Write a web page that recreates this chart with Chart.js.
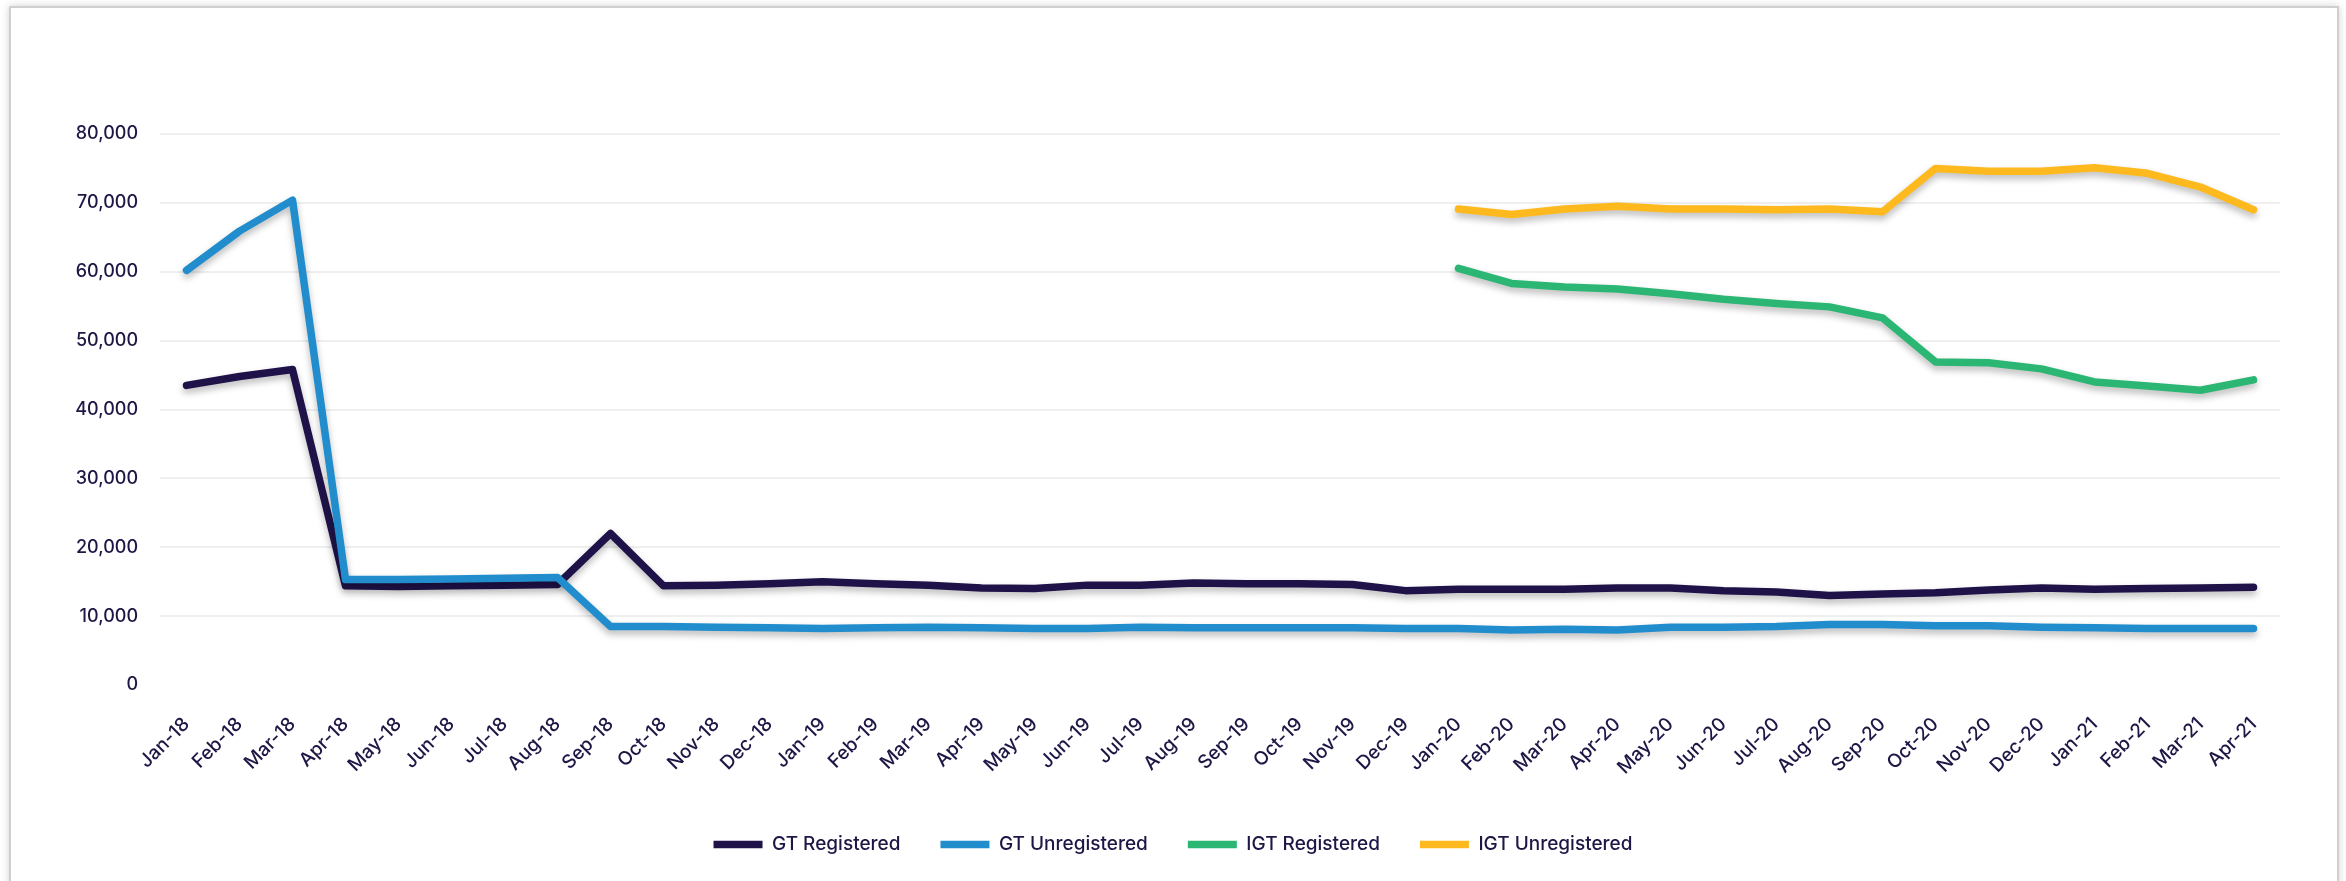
<!DOCTYPE html>
<html>
<head>
<meta charset="utf-8">
<script src="https://cdn.jsdelivr.net/npm/chart.js@4.4.1/dist/chart.umd.min.js"></script>
<style>
    html, body { margin: 0; padding: 0; background: #fff; }
    body { width: 2346px; height: 881px; position: relative; overflow: hidden; }
    .card {
        position: absolute; left: 9px; top: 6px; width: 2326px; height: 920px;
        border: 2px solid #cfcfcf; box-shadow: 0 0 8px rgba(0,0,0,0.18); background: #fff;
    }
    #trendChart { position: absolute; left: 0; top: 0; }
</style>
</head>
<body>
<div class="card"></div>
<canvas id="trendChart" width="2346" height="881"></canvas>
<script>
const months = [
    'Jan-18', 'Feb-18', 'Mar-18', 'Apr-18', 'May-18', 'Jun-18', 'Jul-18', 'Aug-18', 'Sep-18', 'Oct-18', 'Nov-18', 'Dec-18',
    'Jan-19', 'Feb-19', 'Mar-19', 'Apr-19', 'May-19', 'Jun-19', 'Jul-19', 'Aug-19', 'Sep-19', 'Oct-19', 'Nov-19', 'Dec-19',
    'Jan-20', 'Feb-20', 'Mar-20', 'Apr-20', 'May-20', 'Jun-20', 'Jul-20', 'Aug-20', 'Sep-20', 'Oct-20', 'Nov-20', 'Dec-20',
    'Jan-21', 'Feb-21', 'Mar-21', 'Apr-21'
];

const gtRegistered = [
    43500, 44800, 45800, 14400, 14300, 14400, 14500, 14600, 22000, 14400, 14500, 14700,
    15000, 14700, 14500, 14100, 14000, 14500, 14500, 14800, 14700, 14700, 14600, 13700,
    13900, 13900, 13900, 14100, 14100, 13700, 13500, 13000, 13200, 13400, 13800, 14100,
    13900, 14000, 14100, 14200
];

const gtUnregistered = [
    60200, 65900, 70400, 15300, 15300, 15400, 15500, 15600, 8500, 8500, 8400, 8300,
    8200, 8300, 8400, 8300, 8200, 8200, 8400, 8300, 8300, 8300, 8300, 8200,
    8200, 8000, 8100, 8000, 8400, 8400, 8500, 8800, 8800, 8600, 8600, 8400,
    8300, 8200, 8200, 8200
];

const igtRegistered = [
    null, null, null, null, null, null, null, null, null, null, null, null,
    null, null, null, null, null, null, null, null, null, null, null, null,
    60500, 58300, 57800, 57500, 56800, 56000, 55400, 54900, 53300, 46900, 46800, 45900,
    44000, 43400, 42800, 44300
];

const igtUnregistered = [
    null, null, null, null, null, null, null, null, null, null, null, null,
    null, null, null, null, null, null, null, null, null, null, null, null,
    69100, 68300, 69100, 69500, 69100, 69100, 69000, 69100, 68700, 75000, 74600, 74600,
    75100, 74300, 72300, 69000
];

const yTicks = [0, 10000, 20000, 30000, 40000, 50000, 60000, 70000, 80000];

const textColor = '#1f1646';
const fontFamily = 'Inter, "Noto Sans", sans-serif';

// soft drop shadow under the lines
const lineShadow = {
    id: 'lineShadow',
    beforeDatasetsDraw(chart) {
        const ctx = chart.ctx;
        ctx.save();
        ctx.shadowColor = 'rgba(0, 0, 0, 0.28)';
        ctx.shadowBlur = 7;
        ctx.shadowOffsetX = 0;
        ctx.shadowOffsetY = 4;
    },
    afterDatasetsDraw(chart) {
        chart.ctx.restore();
    }
};

const makeSeries = (label, data, color, order) => ({
    label: label,
    data: data,
    borderColor: color,
    backgroundColor: color,
    borderWidth: 7.5,
    borderCapStyle: 'round',
    borderJoinStyle: 'round',
    pointRadius: 0,
    pointHoverRadius: 0,
    tension: 0,
    fill: false,
    order: order,
});

new Chart(document.getElementById('trendChart'), {
    type: 'line',
    data: {
        labels: months,
        datasets: [
            makeSeries('GT Registered', gtRegistered, '#1f1248', 2),
            makeSeries('GT Unregistered', gtUnregistered, '#228dcd', 1),
            makeSeries('IGT Registered', igtRegistered, '#2bb673', 2),
            makeSeries('IGT Unregistered', igtUnregistered, '#fdb91e', 2),
        ]
    },
    plugins: [lineShadow],
    options: {
        responsive: false,
        animation: false,
        devicePixelRatio: 1,
        layout: {
            padding: { left: 66, right: 66, top: 134, bottom: 17 }
        },
        plugins: {
            tooltip: { enabled: false },
            legend: {
                position: 'bottom',
                labels: {
                    usePointStyle: true,
                    pointStyle: 'line',
                    pointStyleWidth: 49,
                    padding: 40,
                    color: textColor,
                    font: { family: fontFamily, size: 19, weight: 500 },
                    sort: (a, b) => a.datasetIndex - b.datasetIndex,
                }
            }
        },
        scales: {
            x: {
                offset: true,
                grid: { display: false },
                border: { display: false },
                afterFit: (scale) => { scale.height = 110; },
                ticks: {
                    autoSkip: false,
                    minRotation: 45,
                    maxRotation: 45,
                    padding: 20,
                    color: textColor,
                    font: { family: fontFamily, size: 19, weight: 500 },
                }
            },
            y: {
                min: 0,
                max: 80000,
                afterFit: (scale) => { scale.width = 94; },
                afterBuildTicks: (scale) => { scale.ticks = yTicks.map(v => ({ value: v })); },
                border: { display: false },
                grid: {
                    drawTicks: false,
                    lineWidth: 2,
                    color: (ctx) => ctx.tick && ctx.tick.value === 0 ? 'rgba(0,0,0,0)' : '#efefef',
                },
                ticks: {
                    padding: 22,
                    color: textColor,
                    font: { family: fontFamily, size: 18, weight: 500 },
                    callback: (v) => Number(v).toLocaleString('en-US'),
                }
            }
        }
    }
});
</script>
</body>
</html>
